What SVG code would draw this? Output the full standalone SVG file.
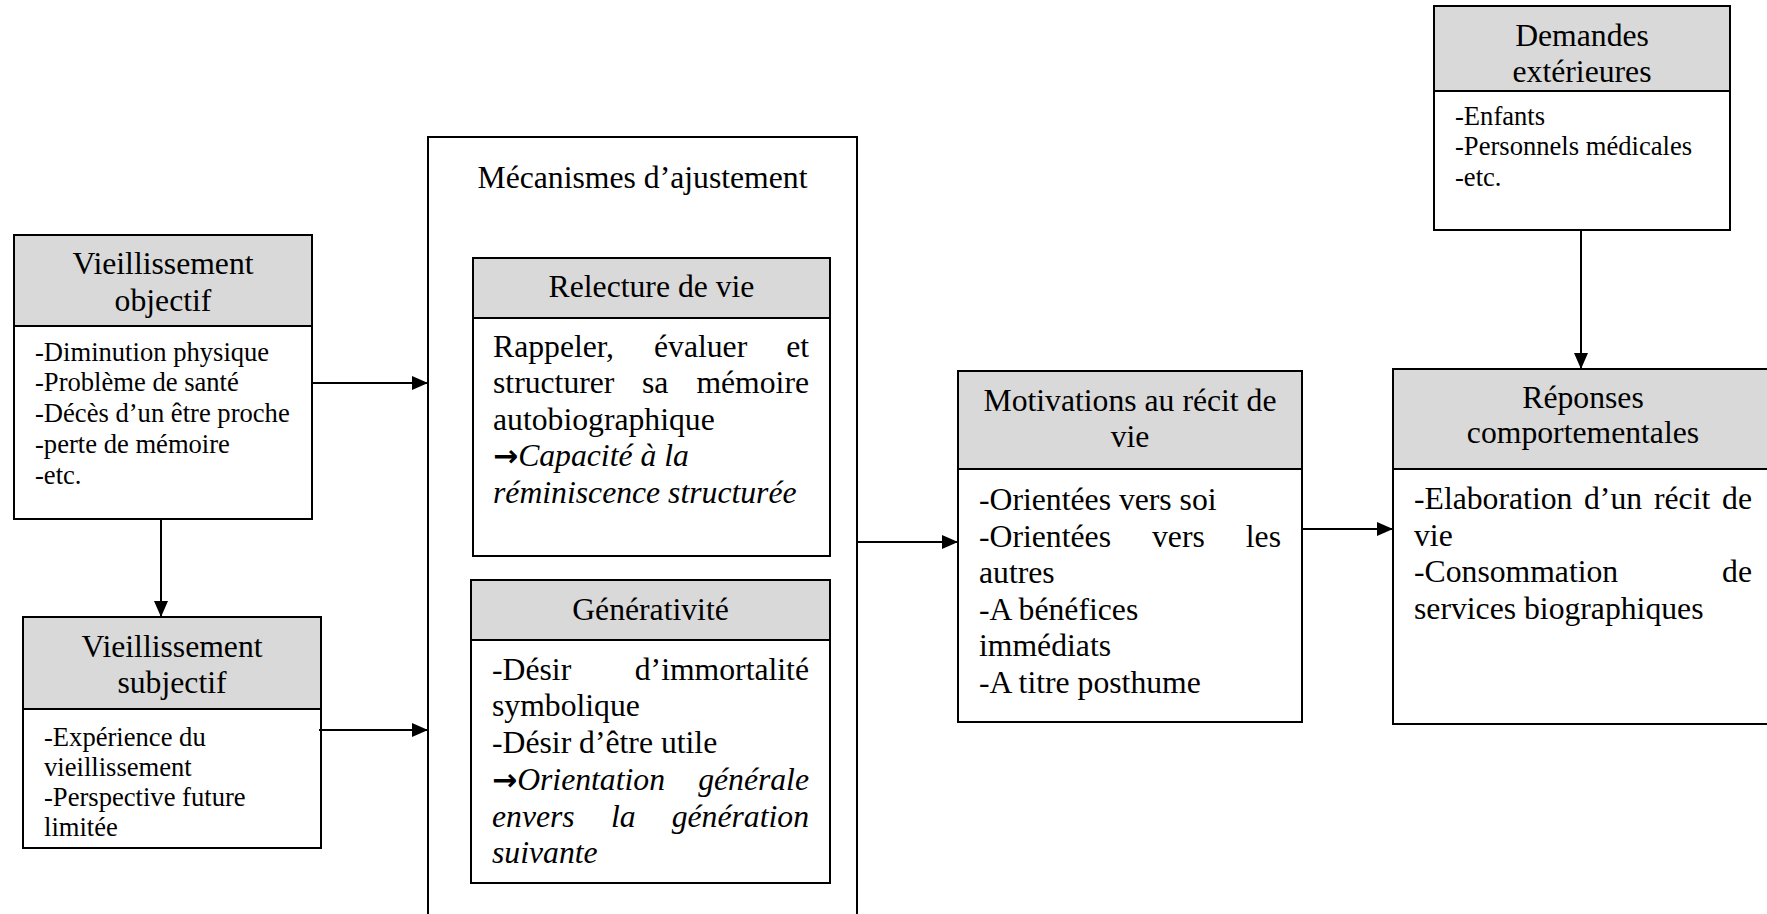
<svg xmlns="http://www.w3.org/2000/svg" width="1767" height="914" viewBox="0 0 1767 914">
<style>
.box{fill:#fff;stroke:#000;stroke-width:2}
.hdr{fill:#d9d9d9;stroke:#000;stroke-width:2}
.t{font-family:"Liberation Serif","Times New Roman",serif;font-size:31.7px;fill:#000}
.s{font-family:"Liberation Serif","Times New Roman",serif;font-size:26.6px;fill:#000}
.c{text-anchor:middle}
.e{text-anchor:end}
.i{font-style:italic}
.ar{font-family:"DejaVu Sans",sans-serif;font-weight:bold;font-size:30px;font-style:normal}
.conn line{stroke:#000;stroke-width:2;marker-end:url(#ah)}
</style>
<defs>
<marker id="ah" markerUnits="userSpaceOnUse" markerWidth="16" markerHeight="14" refX="16" refY="7" orient="auto">
<path d="M0,0 L16,7 L0,14 z" fill="#000"/>
</marker>
</defs>
<rect width="1767" height="914" fill="#fff"/>

<g id="objectif">
<rect class="box" x="14" y="235" width="298" height="284"/>
<rect class="hdr" x="14" y="235" width="298" height="91"/>
<text class="t c" x="163" y="274">Vieillissement</text>
<text class="t c" x="163" y="311">objectif</text>
<text class="s" x="35" y="360.5">-Diminution physique</text>
<text class="s" x="35" y="391.3">-Problème de santé</text>
<text class="s" x="35" y="422">-Décès d’un être proche</text>
<text class="s" x="35" y="452.8">-perte de mémoire</text>
<text class="s" x="35" y="483.6">-etc.</text>
</g>

<g id="subjectif">
<rect class="box" x="23" y="617" width="298" height="231"/>
<rect class="hdr" x="23" y="617" width="298" height="92"/>
<text class="t c" x="172" y="657">Vieillissement</text>
<text class="t c" x="172" y="693">subjectif</text>
<text class="s" x="44" y="745.5">-Expérience du</text>
<text class="s" x="44" y="775.7">vieillissement</text>
<text class="s" x="44" y="805.9">-Perspective future</text>
<text class="s" x="44" y="836">limitée</text>
</g>

<g id="mecanismes">
<rect class="box" x="428" y="137" width="429" height="800"/>
<text class="t c" x="642.5" y="188">Mécanismes d’ajustement</text>
</g>

<g id="relecture">
<rect class="box" x="473" y="258" width="357" height="298"/>
<rect class="hdr" x="473" y="258" width="357" height="60"/>
<text class="t c" x="651.5" y="297">Relecture de vie</text>
<text class="t" x="493" y="356.5">Rappeler,</text>
<text class="t" x="654" y="356.5">évaluer</text>
<text class="t e" x="809" y="356.5">et</text>
<text class="t" x="493" y="393">structurer</text>
<text class="t" x="642" y="393">sa</text>
<text class="t e" x="809" y="393">mémoire</text>
<text class="t" x="493" y="429.7">autobiographique</text>
<text class="t" x="493" y="466.3"><tspan class="ar">→</tspan><tspan class="i">Capacité à la</tspan></text>
<text class="t i" x="493" y="503">réminiscence structurée</text>
</g>

<g id="generativite">
<rect class="box" x="471" y="580" width="359" height="303"/>
<rect class="hdr" x="471" y="580" width="359" height="60"/>
<text class="t c" x="650.5" y="620">Générativité</text>
<text class="t" x="492" y="679.5">-Désir</text>
<text class="t e" x="809" y="679.5">d’immortalité</text>
<text class="t" x="492" y="716.3">symbolique</text>
<text class="t" x="492" y="753">-Désir d’être utile</text>
<text class="t" x="492" y="789.8"><tspan class="ar">→</tspan><tspan class="i">Orientation</tspan></text>
<text class="t i e" x="809" y="789.8">générale</text>
<text class="t i" x="492" y="826.6">envers</text>
<text class="t i" x="611" y="826.6">la</text>
<text class="t i e" x="809" y="826.6">génération</text>
<text class="t i" x="492" y="863.4">suivante</text>
</g>

<g id="motivations">
<rect class="box" x="958" y="371" width="344" height="351"/>
<rect class="hdr" x="958" y="371" width="344" height="98"/>
<text class="t c" x="1130" y="411">Motivations au récit de</text>
<text class="t c" x="1130" y="447">vie</text>
<text class="t" x="979" y="510">-Orientées vers soi</text>
<text class="t" x="979" y="546.6">-Orientées</text>
<text class="t" x="1152" y="546.6">vers</text>
<text class="t e" x="1281" y="546.6">les</text>
<text class="t" x="979" y="583.2">autres</text>
<text class="t" x="979" y="619.8">-A bénéfices</text>
<text class="t" x="979" y="656.4">immédiats</text>
<text class="t" x="979" y="693">-A titre posthume</text>
</g>

<g id="reponses">
<rect class="box" x="1393" y="369" width="382" height="355"/>
<rect class="hdr" x="1393" y="369" width="382" height="100"/>
<text class="t c" x="1583" y="408">Réponses</text>
<text class="t c" x="1583" y="443">comportementales</text>
<text class="t" x="1414" y="509">-Elaboration</text>
<text class="t" x="1584" y="509">d’un</text>
<text class="t" x="1654" y="509">récit</text>
<text class="t e" x="1752" y="509">de</text>
<text class="t" x="1414" y="545.7">vie</text>
<text class="t" x="1414" y="582.3">-Consommation</text>
<text class="t e" x="1752" y="582.3">de</text>
<text class="t" x="1414" y="619">services biographiques</text>
</g>

<g id="demandes">
<rect class="box" x="1434" y="6" width="296" height="224"/>
<rect class="hdr" x="1434" y="6" width="296" height="85"/>
<text class="t c" x="1582" y="45.7">Demandes</text>
<text class="t c" x="1582" y="81.7">extérieures</text>
<text class="s" x="1455" y="125">-Enfants</text>
<text class="s" x="1455" y="155.3">-Personnels médicales</text>
<text class="s" x="1455" y="185.7">-etc.</text>
</g>

<g id="connectors" class="conn">
<line x1="312" y1="383" x2="428" y2="383"/>
<line x1="161" y1="519" x2="161" y2="617"/>
<line x1="319" y1="730" x2="428" y2="730"/>
<line x1="857" y1="542" x2="958" y2="542"/>
<line x1="1302" y1="529" x2="1393" y2="529"/>
<line x1="1581" y1="230" x2="1581" y2="369"/>
</g>
</svg>
